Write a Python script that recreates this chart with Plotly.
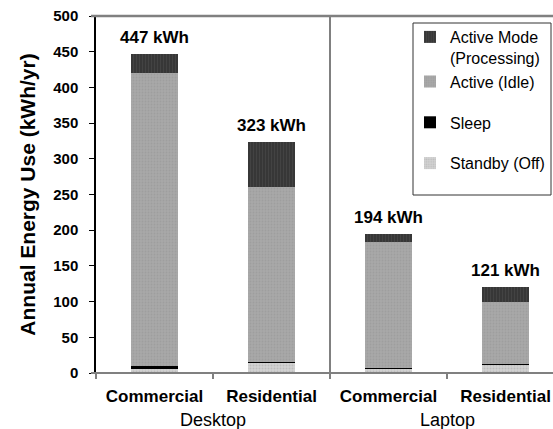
import plotly.graph_objects as go

# Annual energy use by power mode (kWh/yr)
groups = ["Desktop", "Laptop"]
segments = ["Commercial", "Residential", "Commercial", "Residential"]
standby_off = [6, 15, 6, 12]
sleep = [4, 1, 1, 1]
active_idle = [410, 244, 177, 87]
active_mode = [27, 63, 10, 21]

y_ticks = list(range(0, 501, 50))

x_pos = list(range(len(segments)))
totals = [a + b + c + d for a, b, c, d in zip(standby_off, sleep, active_idle, active_mode)]

FONT = "Liberation Sans, Arial, sans-serif"

# plot-area geometry in pixels (used for paper-space helpers)
W, H = 553, 429
L, R, T, B = 96, 0, 16, 56
PW, PH = W - L - R, H - T - B


def px_x(p):
    return (p - L) / PW


def px_y(p):
    return (H - B - p) / PH


# (name, values, legend group, legend rank, marker) -- stacked bottom to top
series = [
    ("Standby (Off)", standby_off, "lg_standby", 4,
     dict(color="#cfcfcf", pattern=dict(shape=".", fgcolor="#a8a8a8", bgcolor="#d2d2d2", size=3, solidity=0.35))),
    ("Sleep", sleep, "lg_sleep", 3, dict(color="#000000")),
    ("Active (Idle)", active_idle, "lg_active", 2,
     dict(color="#a3a3a3", pattern=dict(shape=".", fgcolor="#939393", bgcolor="#a8a8a8", size=3, solidity=0.3))),
    ("Active Mode<br>(Processing)", active_mode, "lg_active", 1,
     dict(color="#3a3a3a", pattern=dict(shape="|", fgcolor="#525252", bgcolor="#353535", size=3, solidity=0.4))),
]

fig = go.Figure()
for name, vals, grp, rank, marker in series:
    fig.add_trace(go.Bar(
        x=x_pos, y=vals, name=name, width=0.4,
        marker=dict(line=dict(width=0), **marker),
        legendgroup=grp, legendrank=rank,
    ))

# Total labels above each stack
for xp, t in zip(x_pos, totals):
    fig.add_annotation(x=xp, y=t, text=f"<b>{t} kWh</b>", showarrow=False,
                       yanchor="bottom", yshift=5,
                       font=dict(family=FONT, size=17, color="#000"))

# Group labels under the category labels
for name, center in zip(groups, [0.5, 2.5]):
    fig.add_annotation(x=center, y=0, yref="y", text=name, showarrow=False,
                       yanchor="middle", yshift=-47,
                       font=dict(family=FONT, size=18, color="#000"))

# Divider between device groups
fig.add_shape(type="line", x0=1.5, x1=1.5, y0=0, y1=1, yref="paper",
              line=dict(color="#808080", width=2))

# Top border and baseline of the plot area
fig.add_shape(type="line", x0=px_x(91), x1=1, xref="paper", y0=1, y1=1, yref="paper",
              line=dict(color="#808080", width=2.5))
fig.add_shape(type="line", x0=px_x(91), x1=1, xref="paper", y0=0, y1=0, yref="paper",
              line=dict(color="#808080", width=2))

# Legend frame
fig.add_shape(type="rect", xref="paper", yref="paper",
              x0=px_x(413), x1=px_x(551), y0=px_y(195), y1=px_y(23),
              line=dict(color="#333333", width=1), fillcolor="white", layer="above")

fig.update_layout(
    width=W, height=H,
    margin=dict(l=L, r=R, t=T, b=B),
    paper_bgcolor="white", plot_bgcolor="white",
    barmode="stack",
    font=dict(family=FONT, size=15, color="#000"),
    showlegend=True,
    legend=dict(
        x=px_x(410), y=px_y(20), xanchor="left", yanchor="top",
        traceorder="grouped", tracegroupgap=17, valign="top",
        borderwidth=0, bgcolor="rgba(0,0,0,0)",
        font=dict(family=FONT, size=16, color="#000"),
        itemwidth=30,
    ),
    xaxis=dict(
        range=[-0.5, -0.5 + PW / 117],
        tickvals=x_pos,
        ticktext=[f"<b>{s}</b>" for s in segments],
        ticks="", showgrid=False, zeroline=False, showline=False,
        tickfont=dict(family=FONT, size=17, color="#000"),
        ticklabelstandoff=11,
        minor=dict(tick0=-0.5, dtick=1, ticks="outside", ticklen=5,
                   tickcolor="#808080", tickwidth=1.5, showgrid=False),
    ),
    yaxis=dict(
        range=[0, 500],
        tickvals=y_ticks,
        ticktext=[f"<b>{v}</b>" for v in y_ticks],
        ticks="outside", ticklen=5, tickcolor="#000",
        showgrid=False, zeroline=False,
        showline=True, linecolor="#000", linewidth=1.5,
        tickfont=dict(family=FONT, size=15, color="#000"),
        ticklabelstandoff=8,
        title=dict(text="<b>Annual Energy Use (kWh/yr)</b>",
                   font=dict(family=FONT, size=21, color="#000"), standoff=12),
    ),
)

fig.write_html("out.html")
